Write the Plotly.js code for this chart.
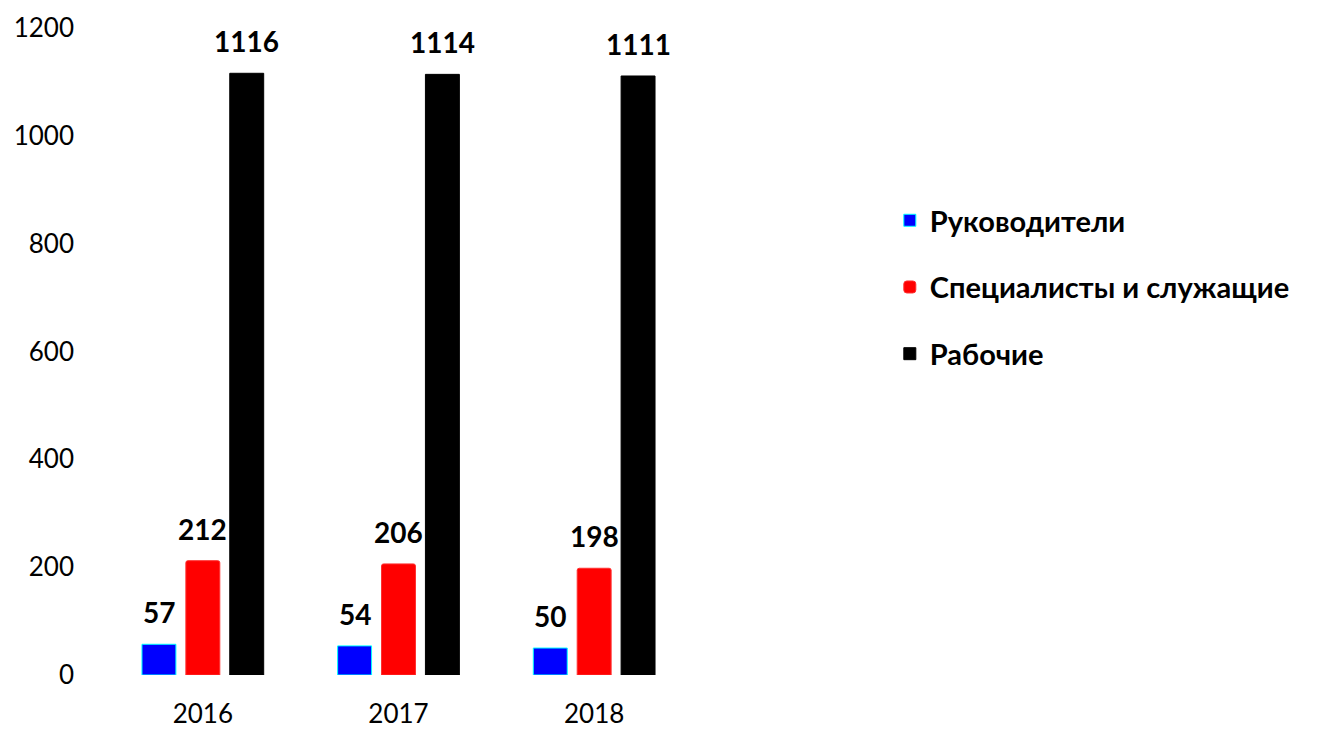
<!DOCTYPE html>
<html>
<head>
<meta charset="utf-8">
<script src="https://cdn.plot.ly/plotly-3.0.1.min.js"></script>
<style>html,body{margin:0;padding:0;background:#fff;}#chart{width:1324px;height:729px;}</style>
</head>
<body>
<div id="chart"></div>
<script>
const categories = ["2016", "2017", "2018"];
const seriesNames = ["Руководители", "Специалисты и служащие", "Рабочие"];
const managers = [57, 54, 50];
const specialists = [212, 206, 198];
const workers = [1116, 1114, 1111];
const yTicks = [0, 200, 400, 600, 800, 1000, 1200];

const FONT = "Lato, 'Noto Sans', sans-serif";
const BARGAP = 0.327, BARGROUPGAP = 0.227;
const seriesValues = [managers, specialists, workers];
const colors = ["#0000ff", "#ff0000", "#000000"];
const lineColors = ["#00ffff", "#ff3030", "#000000"];

const traces = seriesValues.map((vals, i) => ({
  type: "bar",
  name: seriesNames[i],
  x: categories,
  y: vals,
  legendgroup: "g" + i,
  marker: {color: colors[i], line: {color: lineColors[i], width: 1}, cornerradius: i === 1 ? 2 : 0},
  hoverinfo: "x+y+name"
}));

const slot = (1 - BARGAP) / seriesValues.length;
const annotations = [];
seriesValues.forEach((vals, i) => {
  vals.forEach((v, j) => {
    annotations.push({
      x: j + (i - (seriesValues.length - 1) / 2) * slot,
      y: v, xref: "x", yref: "y",
      text: String(v), showarrow: false,
      yanchor: "middle", yshift: 32,
      font: {family: FONT, size: 28, color: "#000", weight: "bold"}
    });
  });
});

const layout = {
  width: 1324, height: 729,
  margin: {l: 105, r: 632, t: 28, b: 54},
  paper_bgcolor: "#fff", plot_bgcolor: "#fff",
  barmode: "group", bargap: BARGAP, bargroupgap: BARGROUPGAP,
  font: {family: FONT, size: 26, color: "#000"},
  xaxis: {type: "category", range: [-0.5, 2.5], showgrid: false, zeroline: false, showline: false,
          ticks: "", ticklabelstandoff: 21, tickfont: {family: FONT, size: 26, color: "#000"}},
  yaxis: {range: [0, 1200], tickvals: yTicks, ticktext: yTicks.map(String), showgrid: false,
          zeroline: false, showline: false, ticks: "", ticklabelstandoff: 30,
          tickfont: {family: FONT, size: 26, color: "#000"}},
  showlegend: true,
  legend: {x: 1.337, xanchor: "left", y: 0.742, yanchor: "top", traceorder: "grouped",
           tracegroupgap: 26, font: {family: FONT, size: 29, color: "#000", weight: "bold"},
           bgcolor: "rgba(0,0,0,0)"},
  annotations: annotations
};

Plotly.newPlot("chart", traces, layout, {displayModeBar: false, staticPlot: true});
</script>
</body>
</html>
